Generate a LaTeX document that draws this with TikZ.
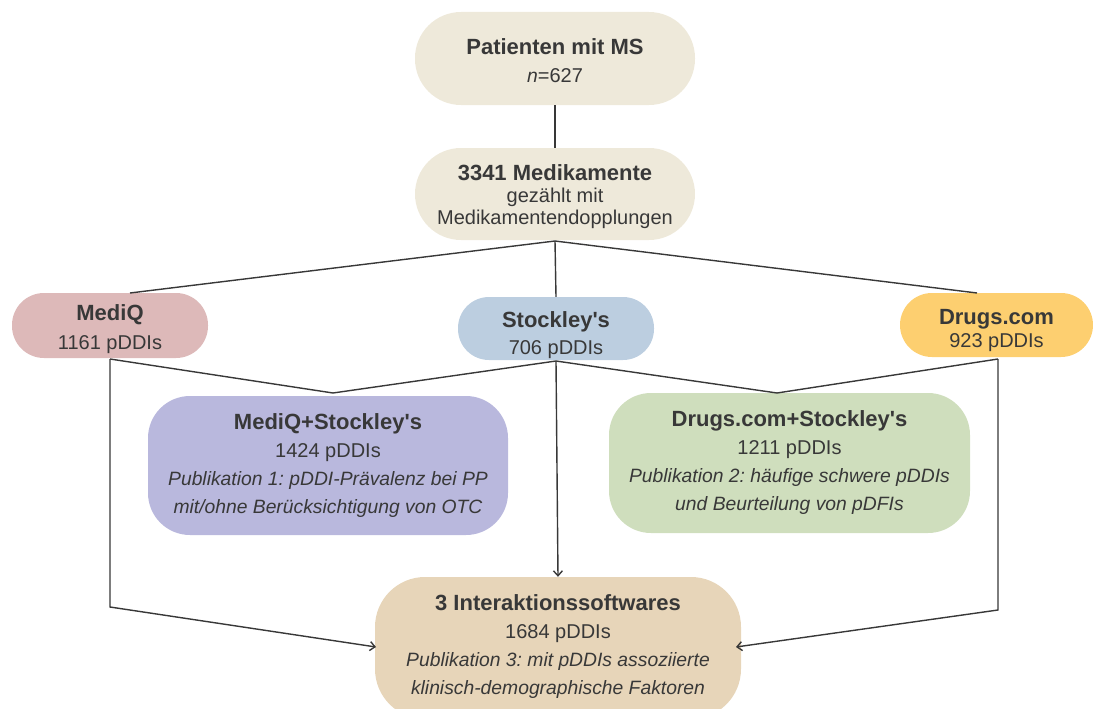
\documentclass[tikz,border=0pt]{standalone}
\usepackage{fontspec}
\setmainfont{Liberation Sans}
\usetikzlibrary{arrows.meta}
\definecolor{txt}{HTML}{383838}
\definecolor{cream}{HTML}{EEE9DA}
\definecolor{pinkc}{HTML}{DDB9B9}
\definecolor{bluec}{HTML}{BCCEE0}
\definecolor{yellowc}{HTML}{FDCF70}
\definecolor{lavc}{HTML}{B9B8DD}
\definecolor{greenc}{HTML}{CFDEBD}
\definecolor{tanc}{HTML}{E7D5B9}
\definecolor{linec}{HTML}{383838}
\tikzset{
  pill/.style={rectangle, inner sep=0pt, draw=none},
  txtsty/.style={inner sep=0pt, text=txt, align=center, font=\frenchspacing\fontsize{20}{28}\selectfont},
  conn/.style={draw=linec, line width=1.4pt},
  arr/.style={conn, -{Straight Barb[length=5pt,width=9pt,line width=1.4pt]}},
}
\newcommand{\ttl}[1]{{\fontsize{22}{28}\selectfont\bfseries #1}}
\newcommand{\itl}[1]{{\fontsize{19.3}{28}\selectfont\itshape #1}}
\newcommand{\apo}{\textquotesingle}
\begin{document}
\begin{tikzpicture}[x=1pt,y=-1pt]
\useasboundingbox (0,0) rectangle (1093,709);
\begin{scope}
\clip (0,0) rectangle (1093,709);
% nodes
\node[pill, fill=cream, rounded corners=46pt, minimum width=280pt, minimum height=93pt,
  label={[txtsty, yshift=-2pt]center:{\ttl{Patienten mit MS}\\\itl{n}=627}}] (top) at (555,58.5) {};
\node[pill, fill=cream, rounded corners=46pt, minimum width=280pt, minimum height=92pt,
  label={[txtsty, font=\frenchspacing\fontsize{20}{22}\selectfont, yshift=-2.5pt]center:{\ttl{3341 Medikamente}\\gezählt mit\\Medikamentendopplungen}}] (med) at (555,194) {};
\node[pill, fill=pinkc, rounded corners=32pt, minimum width=196pt, minimum height=65pt,
  label={[txtsty, font=\frenchspacing\fontsize{20}{29}\selectfont, yshift=-4pt]center:{\ttl{MediQ}\\1161 pDDIs}}] (mediq) at (110,325.5) {};
\node[pill, fill=bluec, rounded corners=31pt, minimum width=196pt, minimum height=63pt,
  label={[txtsty, font=\frenchspacing\fontsize{20}{27}\selectfont, yshift=-7pt]center:{\ttl{Stockley\apo s}\\706 pDDIs}}] (stock) at (556,328.5) {};
\node[pill, fill=yellowc, rounded corners=32pt, minimum width=193pt, minimum height=64pt,
  label={[txtsty, font=\frenchspacing\fontsize{20}{23}\selectfont, yshift=-5.5pt]center:{\ttl{Drugs.com}\\923 pDDIs}}] (drugs) at (996.5,325) {};
\node[pill, fill=lavc, rounded corners=42pt, minimum width=360pt, minimum height=139pt,
  label={[txtsty]center:{\ttl{MediQ+Stockley\apo s}\\1424 pDDIs\\\itl{Publikation 1: pDDI-Prävalenz bei PP}\\\itl{mit/ohne Berücksichtigung von OTC}}}] (msb) at (328,465.5) {};
\node[pill, fill=greenc, rounded corners=42pt, minimum width=361pt, minimum height=140pt,
  label={[txtsty]center:{\ttl{Drugs.com+Stockley\apo s}\\1211 pDDIs\\\itl{Publikation 2: häufige schwere pDDIs}\\\itl{und Beurteilung von pDFIs}}}] (dsb) at (789.5,463) {};
\node[pill, fill=tanc, rounded corners=50pt, minimum width=366pt, minimum height=142pt,
  label={[txtsty, yshift=1pt]center:{\ttl{3 Interaktionssoftwares}\\1684 pDDIs\\\itl{Publikation 3: mit pDDIs assoziierte}\\\itl{klinisch-demographische Faktoren}}}] (fin) at (558,648) {};
\end{scope}
% coordinates
\coordinate (medb) at (555,241);
\coordinate (mediqt) at (130,293);
\coordinate (drugst) at (977,293);
\coordinate (mediqb) at (110,359);
\coordinate (stockb) at (556,361);
\coordinate (drugsb) at (998,359);
\coordinate (msbt) at (333,393);
\coordinate (dsbt) at (777,393);
\coordinate (lbend) at (110,607);
\coordinate (rbend) at (998,610);
\coordinate (finl) at (376,647);
\coordinate (finr) at (736,647);
% connectors
\draw[conn] (top.south) -- (med.north);
\draw[conn] (medb) -- (mediqt);
\draw[conn] (medb) -- (stock.north);
\draw[conn] (medb) -- (drugst);
\draw[conn] (mediqb) -- (msbt);
\draw[conn] (stockb) -- (msbt);
\draw[conn] (stockb) -- (dsbt);
\draw[conn] (drugsb) -- (dsbt);
\draw[arr] (stockb) -- (fin.north);
\draw[arr] (mediqb) -- (lbend) -- (finl);
\draw[arr] (drugsb) -- (rbend) -- (finr);
\end{tikzpicture}
\end{document}
